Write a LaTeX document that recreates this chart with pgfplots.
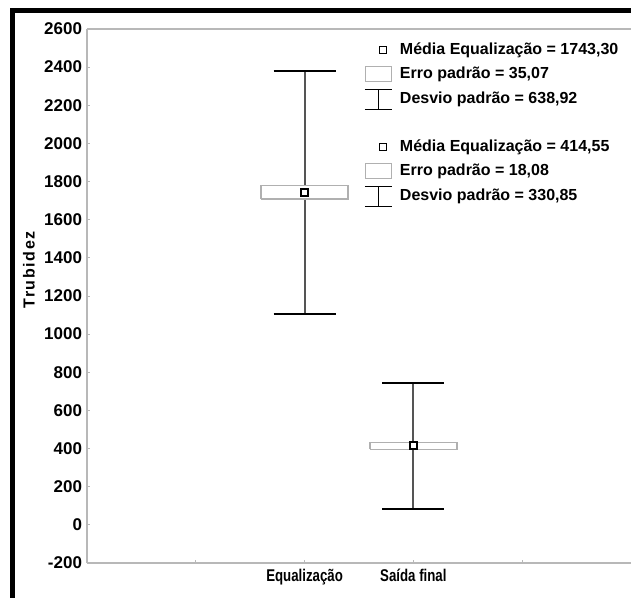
\documentclass[border=0pt]{standalone}
\usepackage{fontspec}
\setmainfont{Liberation Sans}
\newfontfamily\narrowfont{Liberation Sans}[FakeStretch=0.78]
\usepackage{pgfplots}
\pgfplotsset{compat=1.18}
\definecolor{axgray}{HTML}{B8B8B8}
\definecolor{whisk}{HTML}{555555}
\definecolor{boxgray}{HTML}{B0B0B0}
\pgfplotsset{
  meanimg/.style={legend image code/.code={
    \path[draw=none, fill=none] (0,-7.5bp) rectangle (27bp,7.5bp);
    \draw[overlay, draw=black, line width=1.5bp, fill=white] (14.5bp,-3.5bp) rectangle (21.5bp,3.5bp);}},
  seimg/.style={legend image code/.code={
    \path[draw=none, fill=none] (0,-7.5bp) rectangle (27bp,7.5bp);
    \draw[overlay, draw=boxgray, line width=1.2bp, fill=none] (0.6bp,-7.5bp) rectangle (26.4bp,7.5bp);}},
  sdimg/.style={legend image code/.code={
    \path[draw=none, fill=none] (0,-7.5bp) rectangle (27bp,7.5bp);
    \draw[overlay, draw=black, line width=1.6bp, fill=none] (0,9bp) -- (27bp,9bp) (13.5bp,9bp) -- (13.5bp,-11bp) (0,-11bp) -- (27bp,-11bp);}},
}
\begin{document}
\begin{tikzpicture}
\begin{axis}[
  scale only axis, width=544bp, height=534bp,
  at={(0,0)}, anchor=south west,
  xmin=0, xmax=5, ymin=-200, ymax=2600,
  ytick={-200,0,200,400,600,800,1000,1200,1400,1600,1800,2000,2200,2400,2600},
  xtick={1,2,3,4}, xticklabels={,Equalização,Saída final,},
  axis x line*=bottom, axis y line*=left,
  axis line style={axgray, line width=1.5bp},
  tick align=inside, major tick length=3bp,
  tick style={axgray, line width=0.8bp},
  /pgf/number format/assume math mode=true,
  /pgf/number format/1000 sep={},
  yticklabel style={font=\fontsize{17bp}{17bp}\selectfont\bfseries, xshift=-1.5bp},
  xticklabel style={font=\fontsize{17bp}{17bp}\selectfont\narrowfont\bfseries, yshift=-3bp},
  ylabel={Trubidez},
  ylabel style={at={(rel axis cs:0,0.549)}, anchor=center, yshift=58bp,
    font=\fontsize{16bp}{16bp}\selectfont\bfseries\addfontfeature{LetterSpace=10}},
  legend style={draw=none, fill=none, inner sep=0pt, outer sep=0pt,
    at={(rel axis cs:0.511,0.9747)}, anchor=north west,
    row sep=9.25bp, column sep=8bp,
    nodes={inner sep=0pt, text height=12bp, text depth=3bp,
      font=\fontsize{16bp}{16bp}\selectfont\bfseries}},
  legend cell align=left,
]
% Equalizacao
\addplot[forget plot, whisk, line width=2bp] coordinates {(2,1104.38) (2,2382.22)};
\addplot[forget plot, black, line width=2bp] coordinates {(1.715,2382.22) (2.285,2382.22)};
\addplot[forget plot, black, line width=2bp] coordinates {(1.715,1104.38) (2.285,1104.38)};
\addplot[forget plot, boxgray, line width=1.3bp, fill=white] coordinates {(1.6,1708.23) (2.4,1708.23) (2.4,1778.37) (1.6,1778.37) (1.6,1708.23)};
\addplot[forget plot, only marks, mark=square*, mark size=3.5bp, mark options={fill=white, draw=black, line width=1.6bp}] coordinates {(2,1743.30)};
% Saida final
\addplot[forget plot, whisk, line width=2bp] coordinates {(3,83.70) (3,745.40)};
\addplot[forget plot, black, line width=2bp] coordinates {(2.715,745.40) (3.285,745.40)};
\addplot[forget plot, black, line width=2bp] coordinates {(2.715,83.70) (3.285,83.70)};
\addplot[forget plot, boxgray, line width=1.3bp, fill=white] coordinates {(2.6,396.47) (3.4,396.47) (3.4,432.63) (2.6,432.63) (2.6,396.47)};
\addplot[forget plot, only marks, mark=square*, mark size=3.5bp, mark options={fill=white, draw=black, line width=1.6bp}] coordinates {(3,414.55)};
% legend
\addlegendimage{meanimg}
\addlegendentry{Média Equalização = 1743,30}
\addlegendimage{seimg}
\addlegendentry{Erro padrão = 35,07}
\addlegendimage{sdimg}
\addlegendentry{Desvio padrão = 638,92}
\addlegendimage{empty legend}
\addlegendentry{}
\addlegendimage{meanimg}
\addlegendentry{Média Equalização = 414,55}
\addlegendimage{seimg}
\addlegendentry{Erro padrão = 18,08}
\addlegendimage{sdimg}
\addlegendentry{Desvio padrão = 330,85}
\draw[axgray, line width=1.5bp] (rel axis cs:0,1) -- (rel axis cs:1,1);
\end{axis}
\draw[black, line width=5bp] (-74.5bp,-40bp) -- (-74.5bp,552.5bp) -- (560bp,552.5bp);
\pgfresetboundingbox
\path[use as bounding box] (-87bp,-35bp) rectangle (544bp,563bp);
\end{tikzpicture}
\end{document}
